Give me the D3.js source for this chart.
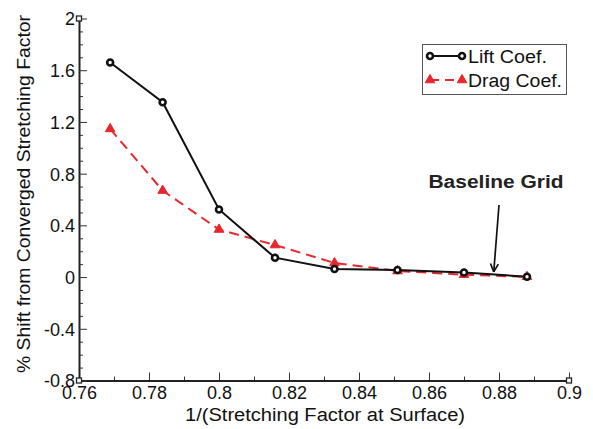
<!DOCTYPE html>
<html>
<head>
<meta charset="utf-8">
<script src="https://cdn.jsdelivr.net/npm/d3@7"></script>
<style>
  body { margin: 0; background: #fff; }
  svg { display: block; font-family: "Liberation Sans", Arial, Helvetica, sans-serif; }
</style>
</head>
<body>
<div id="chart"></div>
<script>
// grid stretching study values
const invStretch = [0.7689, 0.7839, 0.800, 0.816, 0.833, 0.851, 0.870, 0.888];
const liftShift = [1.66, 1.352, 0.523, 0.150, 0.062, 0.055, 0.035, 0.003];
const dragShift = [1.146, 0.669, 0.368, 0.248, 0.109, 0.047, 0.018, 0.002];

const xTicks = [0.76, 0.78, 0.8, 0.82, 0.84, 0.86, 0.88, 0.9];
const xTickLabels = ["0.76", "0.78", "0.8", "0.82", "0.84", "0.86", "0.88", "0.9"];
const yTicks = [-0.8, -0.4, 0, 0.4, 0.8, 1.2, 1.6, 2];
const yTickLabels = ["-0.8", "-0.4", "0", "0.4", "0.8", "1.2", "1.6", "2"];

const seriesNames = ["Lift Coef.", "Drag Coef."];
const xTitle = "1/(Stretching Factor at Surface)";
const yTitle = "% Shift from Converged Stretching Factor";
const noteText = "Baseline Grid";
const noteX = 0.8785, noteY = 0.025;

const W = 593, H = 429;
const red = "#e8262d";

const svg = d3.select("#chart").append("svg")
    .attr("width", W)
    .attr("height", H);

const x = d3.scaleLinear().domain([0.76, 0.9]).range([79, 569]);
const y = d3.scaleLinear().domain([-0.8, 2]).range([380.5, 18.5]);

// minor ticks first (inward)
const xMinor = d3.range(0.77, 0.9, 0.02);
const yMinor = d3.range(-0.7, 2, 0.1).filter(v => Math.abs(Math.round(v * 10) % 4) !== 0);

svg.append("g")
    .attr("transform", `translate(0,${y(-0.8)})`)
    .call(d3.axisBottom(x).tickValues(xMinor).tickSize(-4).tickSizeOuter(0).tickFormat(""))
    .call(g => g.select(".domain").remove())
    .selectAll("line").attr("stroke", "#333").attr("stroke-width", 1);

svg.append("g")
    .attr("transform", `translate(${x(0.76)},0)`)
    .call(d3.axisLeft(y).tickValues(yMinor).tickSize(-4).tickSizeOuter(0).tickFormat(""))
    .call(g => g.select(".domain").remove())
    .selectAll("line").attr("stroke", "#333").attr("stroke-width", 1);

// major axes
const xAxis = svg.append("g")
    .attr("transform", `translate(0,${y(-0.8)})`)
    .call(d3.axisBottom(x).tickValues(xTicks).tickSize(-8).tickSizeOuter(0).tickPadding(6)
        .tickFormat((d, i) => xTickLabels[i]));

const yAxis = svg.append("g")
    .attr("transform", `translate(${x(0.76)},0)`)
    .call(d3.axisLeft(y).tickValues(yTicks).tickSize(-8).tickSizeOuter(0).tickPadding(4)
        .tickFormat((d, i) => yTickLabels[i]));

[xAxis, yAxis].forEach(ax => {
    ax.select(".domain").attr("stroke", "#222").attr("stroke-width", 2);
    ax.selectAll(".tick line").attr("stroke", "#333").attr("stroke-width", 1);
    ax.selectAll(".tick text")
        .attr("fill", "#111")
        .style("font-size", "18px")
        .style("font-family", "'Liberation Sans', Arial, sans-serif");
});
yAxis.selectAll(".tick text").attr("dy", "0.36em");

// tecplot style corner boxes
[[0.76, 2], [0.76, -0.8], [0.9, -0.8]].forEach(p => {
    svg.append("rect")
        .attr("x", x(p[0]) - 2.5).attr("y", y(p[1]) - 2.5)
        .attr("width", 5).attr("height", 5)
        .attr("fill", "#fff").attr("stroke", "#222").attr("stroke-width", 1.3);
});

// axis titles
svg.append("text")
    .attr("x", 325).attr("y", 421)
    .attr("text-anchor", "middle")
    .attr("textLength", 280).attr("lengthAdjust", "spacingAndGlyphs")
    .style("font-size", "18px").attr("fill", "#111")
    .text(xTitle);

svg.append("text")
    .attr("transform", "translate(30,194) rotate(-90)")
    .attr("text-anchor", "middle")
    .attr("textLength", 358).attr("lengthAdjust", "spacingAndGlyphs")
    .style("font-size", "18px").attr("fill", "#111")
    .text(yTitle);

// series
const lift = invStretch.map((d, i) => ({ x: d, y: liftShift[i] }));
const drag = invStretch.map((d, i) => ({ x: d, y: dragShift[i] }));
const line = d3.line().x(d => x(d.x)).y(d => y(d.y));
const tri = d3.symbol().type(d3.symbolTriangle).size(40);

svg.append("path").datum(drag)
    .attr("d", line).attr("fill", "none")
    .attr("stroke", red).attr("stroke-width", 2)
    .attr("stroke-dasharray", "10,6");

svg.append("path").datum(lift)
    .attr("d", line).attr("fill", "none")
    .attr("stroke", "#111").attr("stroke-width", 2);

svg.selectAll(".dragpt").data(drag).enter().append("path")
    .attr("class", "dragpt")
    .attr("transform", d => `translate(${x(d.x)},${y(d.y)})`)
    .attr("d", tri)
    .attr("fill", red).attr("stroke", red).attr("stroke-width", 1);

svg.selectAll(".liftpt").data(lift).enter().append("circle")
    .attr("class", "liftpt")
    .attr("cx", d => x(d.x)).attr("cy", d => y(d.y))
    .attr("r", 3)
    .attr("fill", "#fff").attr("stroke", "#111").attr("stroke-width", 2.6);

// legend
const leg = svg.append("g");
leg.append("rect")
    .attr("x", 422.5).attr("y", 44.5).attr("width", 144).attr("height", 50)
    .attr("fill", "#fff").attr("stroke", "#555").attr("stroke-width", 1);

const legRows = [
    { name: seriesNames[0], y: 56, stroke: "#111", dash: null, mark: "circle" },
    { name: seriesNames[1], y: 80, stroke: red, dash: "9,6", mark: "tri" }
];
legRows.forEach(r => {
    leg.append("line")
        .attr("x1", 430).attr("x2", 462).attr("y1", r.y).attr("y2", r.y)
        .attr("stroke", r.stroke).attr("stroke-width", 2)
        .attr("stroke-dasharray", r.dash);
    [430, 462].forEach(px => {
        if (r.mark === "circle") {
            leg.append("circle").attr("cx", px).attr("cy", r.y).attr("r", 3)
                .attr("fill", "#fff").attr("stroke", "#111").attr("stroke-width", 2.6);
        } else {
            leg.append("path").attr("transform", `translate(${px},${r.y})`)
                .attr("d", tri).attr("fill", red).attr("stroke", red);
        }
    });
    leg.append("text")
        .attr("x", 468).attr("y", r.y + 6.5)
        .attr("textLength", r.mark === "circle" ? 79 : 94).attr("lengthAdjust", "spacingAndGlyphs")
        .style("font-size", "18px").attr("fill", "#111")
        .text(r.name);
});

// annotation
svg.append("text")
    .attr("x", 496).attr("y", 188)
    .attr("text-anchor", "middle")
    .attr("textLength", 135).attr("lengthAdjust", "spacingAndGlyphs")
    .style("font-size", "18px").style("font-weight", "bold").attr("fill", "#222")
    .text(noteText);

const tipX = x(noteX), tipY = y(noteY) - 2;
svg.append("line")
    .attr("x1", 499).attr("y1", 205).attr("x2", tipX).attr("y2", tipY)
    .attr("stroke", "#111").attr("stroke-width", 1.7);
const ang = Math.atan2(tipY - 205, tipX - 499);
[-0.45, 0.45].forEach(a => {
    svg.append("line")
        .attr("x1", tipX).attr("y1", tipY)
        .attr("x2", tipX - 9 * Math.cos(ang + a)).attr("y2", tipY - 9 * Math.sin(ang + a))
        .attr("stroke", "#111").attr("stroke-width", 1.7);
});
</script>
</body>
</html>
